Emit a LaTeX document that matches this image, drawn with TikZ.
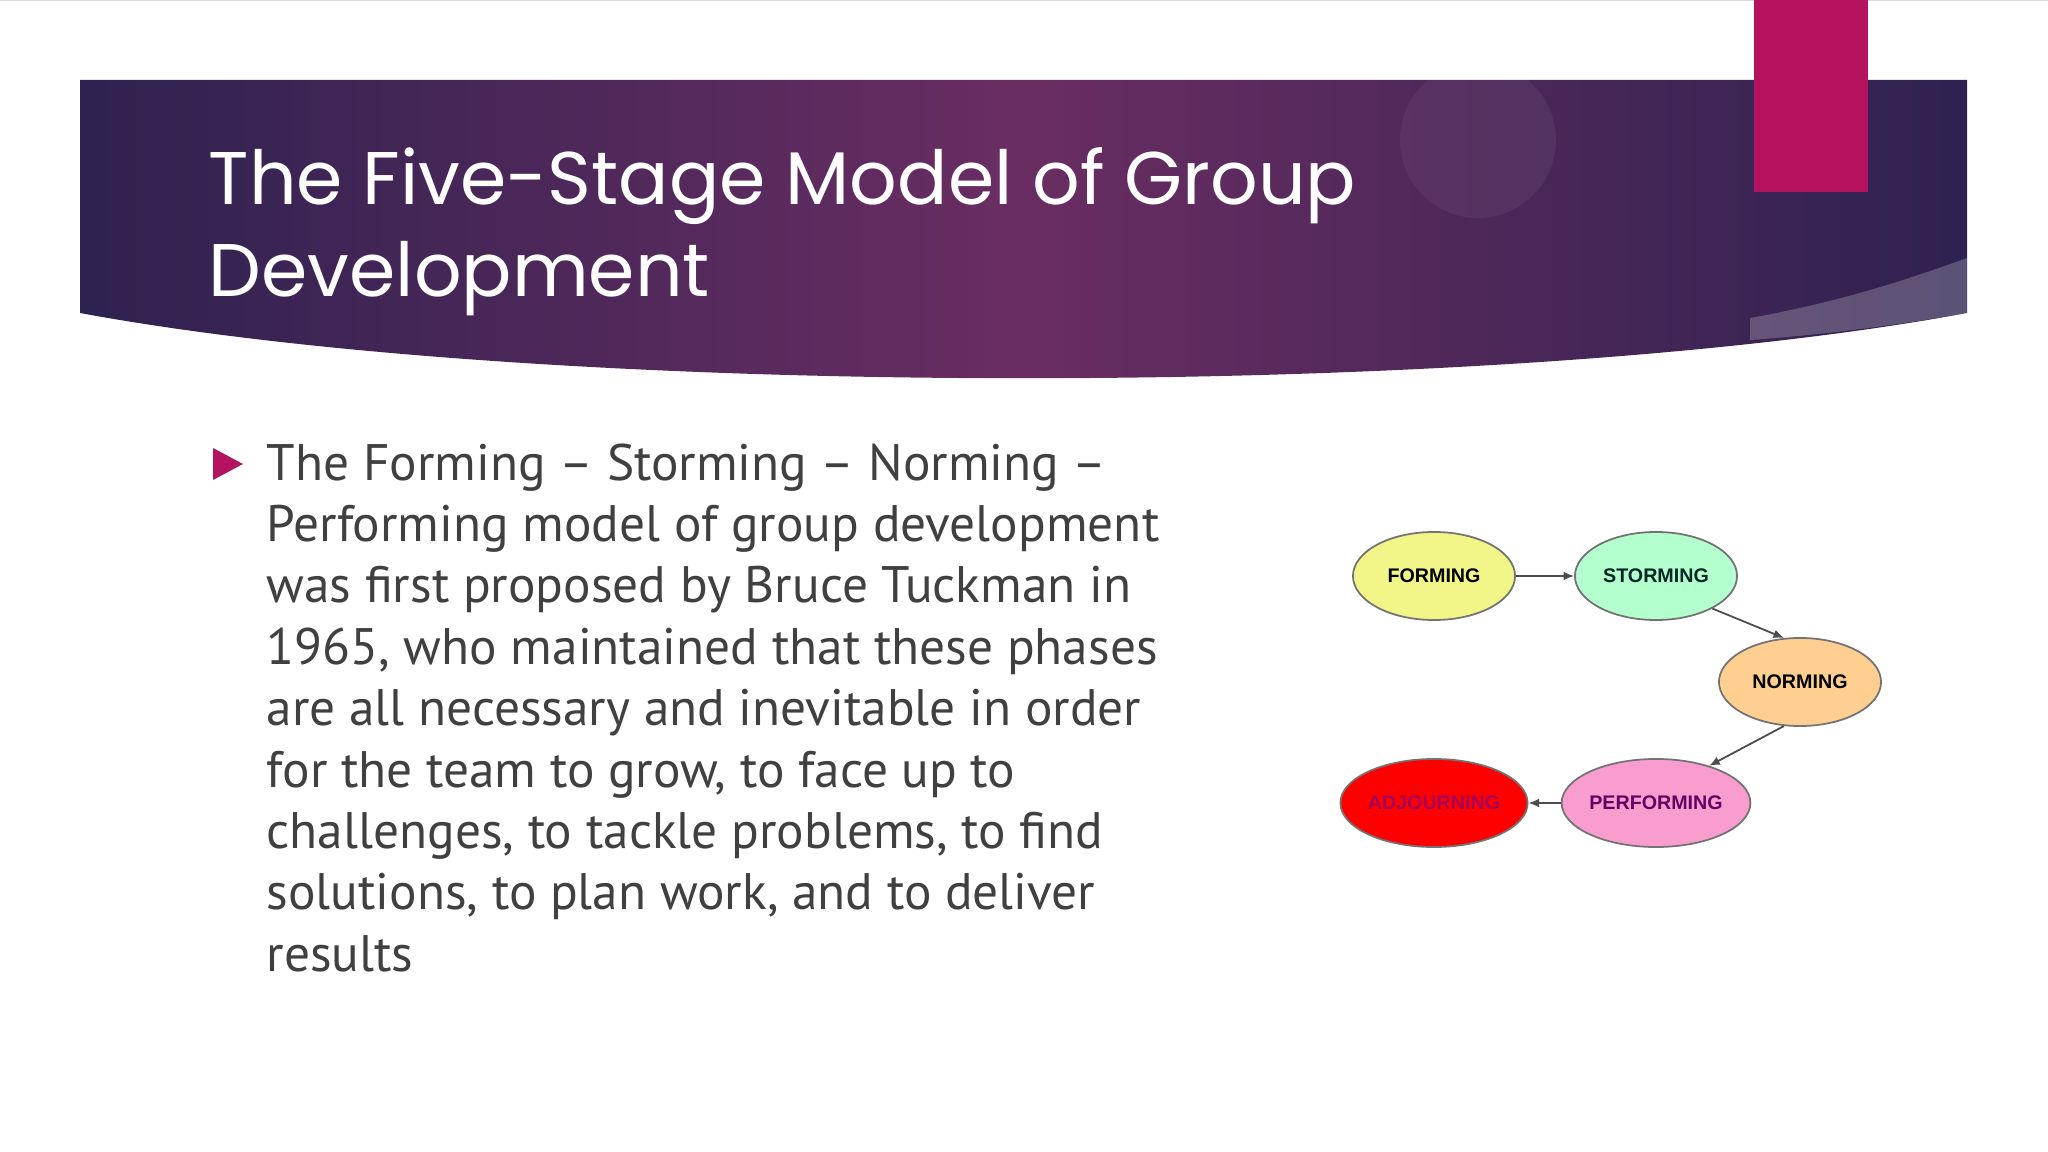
\documentclass[tikz,border=0pt]{standalone}
\usepackage{fontspec}
\setmainfont{PT Sans}
\newfontfamily\titlefont{Poppins}
\newfontfamily\diagfont{Liberation Sans}
\usetikzlibrary{shapes.geometric,arrows.meta}
\definecolor{bandL}{HTML}{2E2250}
\definecolor{bandM}{HTML}{6A2D62}
\definecolor{pinkbar}{HTML}{B5135F}
\definecolor{bodytxt}{HTML}{404040}
\tikzset{
 stage/.style={ellipse,draw=black!55,line width=0.5pt,font=\diagfont\bfseries\fontsize{5.6}{6}\selectfont,inner sep=0pt,minimum width=1.62cm,minimum height=0.88cm},
 flow/.style={-{Latex[length=3pt,width=2.5pt]},black!70,line width=0.5pt}
}
\begin{document}
\begin{tikzpicture}[x=0.01cm,y=-0.01cm]
\useasboundingbox (0,0) rectangle (2048,1152);
\fill[white] (0,0) rectangle (2048,1152);
\draw[black!15] (0,0.5) -- (2048,0.5);
% header band
\shade[left color=bandL,right color=bandL,middle color=bandM]
 (80,80) -- (1967,80) -- (1967,313) .. controls (1500,400) and (550,400) .. (80,313) -- cycle;
\fill[white,opacity=0.22] (1750,318) .. controls (1850,300) and (1920,275) .. (1967,258) -- (1967,313) .. controls (1900,325) and (1820,335) .. (1750,340) -- cycle;
\fill[white,opacity=0.05] (1478,140) circle (78);
\fill[pinkbar] (1754,0) rectangle (1868,192);
\node[anchor=base west,text=white,font=\titlefont\fontsize{21.2}{24}\selectfont,inner sep=0] (t1) at (208,205) {The Five-Stage Model of Group};
\node[anchor=base west,text=white,font=\titlefont\fontsize{21.2}{24}\selectfont,inner sep=0] (t2) at (208,297) {Development};
% bullet
\fill[pinkbar] (213,448) -- (243,464) -- (213,480) -- cycle;
\node[anchor=north west,text=bodytxt,inner sep=0,align=left,font=\fontsize{14.6}{17.45}\selectfont] (body) at (266,443)
{The Forming -- Storming -- Norming --\\ Performing model of group development\\ was first proposed by Bruce Tuckman in\\ 1965, who maintained that these phases\\ are all necessary and inevitable in order\\ for the team to grow, to face up to\\ challenges, to tackle problems, to find\\ solutions, to plan work, and to deliver\\ results};
% diagram
\node[stage,fill=yellow!45!white!95!green] (f) at (1434,576) {FORMING};
\node[stage,fill=green!22!white!90!cyan,text=black!70!teal] (s) at (1656,576) {STORMING};
\node[stage,fill=orange!40!white!95!yellow] (n) at (1800,682) {NORMING};
\node[stage,fill=magenta!40!white!90!pink,text=violet!80!black] (p) at (1656,803) {PERFORMING};
\node[stage,fill=red,text=violet!70!red] (a) at (1434,803) {ADJOURNING};
\draw[flow] (f) -- (s);
\draw[flow] (s.-30) -- (n.110);
\draw[flow] (n.-110) -- (p.35);
\draw[flow] (p) -- (a);
\end{tikzpicture}
\end{document}
